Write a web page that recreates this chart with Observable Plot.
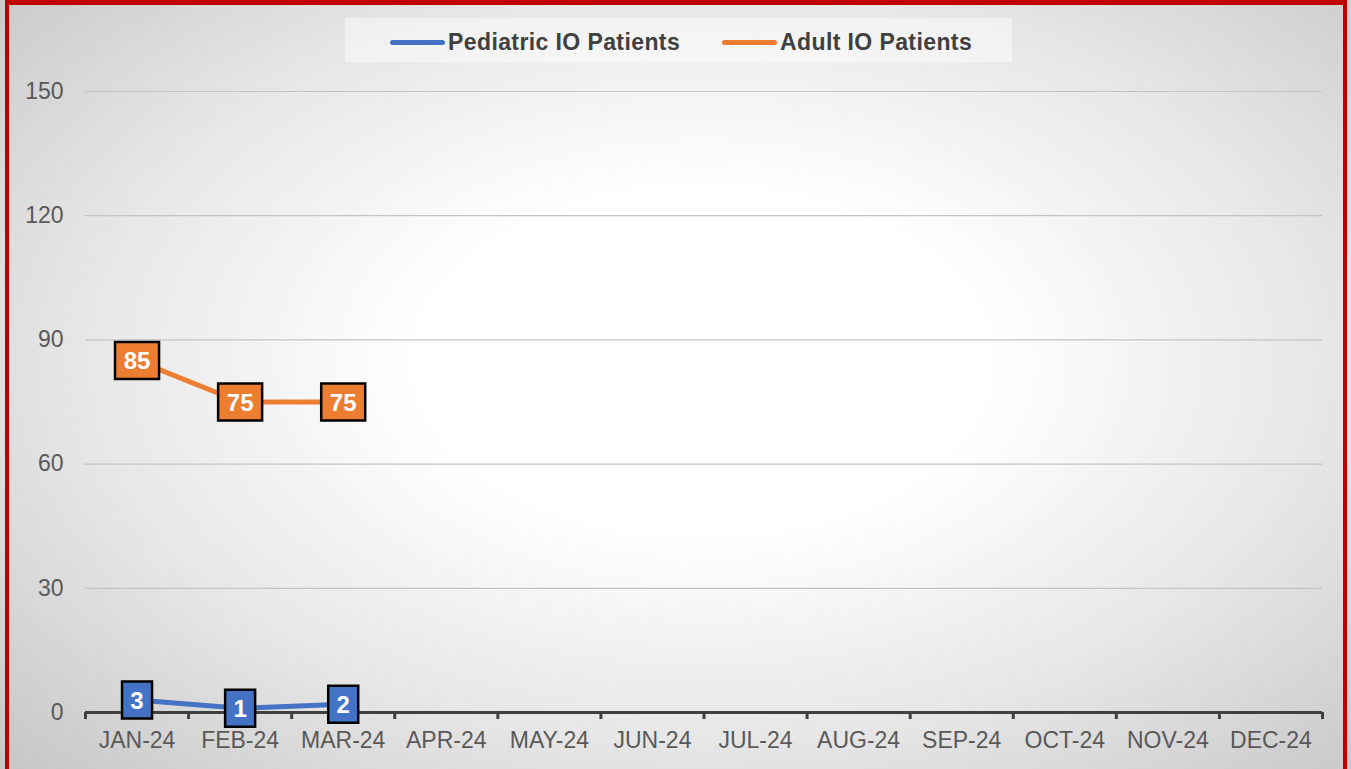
<!DOCTYPE html>
<html>
<head>
<meta charset="utf-8">
<script src="https://cdn.jsdelivr.net/npm/d3@7"></script>
<script src="https://cdn.jsdelivr.net/npm/@observablehq/plot@0.6"></script>
<style>
  html, body { margin: 0; padding: 0; width: 1351px; height: 769px; overflow: hidden; }
  body {
    font-family: "Liberation Sans", Arial, sans-serif;
    background: radial-gradient(ellipse 75% 80% at 52% 47%, #ffffff 0%, #ffffff 28%, #e6e6e6 62%, #c2c2c2 100%);
  }
  #frame {
    position: absolute; left: 5px; top: 0; width: 1342px; height: 769px;
    border-top: 5px solid #c00000; border-left: 4px solid #c00000; border-right: 4px solid #c00000;
    box-sizing: border-box; pointer-events: none; z-index: 5;
  }
  #chart { position: absolute; left: 0; top: 0; }
  #legend {
    position: absolute; left: 345px; top: 18px; width: 667px; height: 44px;
    background: rgba(255,255,255,0.45);
    z-index: 3;
  }
  .item { position: absolute; top: 2px; height: 44px; display: flex; align-items: center; }
  .sw { width: 55px; height: 5px; border-radius: 3px; margin-right: 3px; }
  .lab { font-weight: bold; font-size: 23px; color: #404040; letter-spacing: 0.4px; }
</style>
</head>
<body>
<div id="frame"></div>
<div id="legend"></div>
<div id="chart"></div>
<script>
const months = ["JAN-24","FEB-24","MAR-24","APR-24","MAY-24","JUN-24","JUL-24","AUG-24","SEP-24","OCT-24","NOV-24","DEC-24"];
const seriesNames = ["Pediatric IO Patients", "Adult IO Patients"];
const seriesColors = ["#4472C4", "#ED7D31"];
const pediatric = [3, 1, 2];
const adult = [85, 75, 75];
const yTicks = [0, 30, 60, 90, 120, 150];

const ped = pediatric.map((v, i) => ({i, v, month: months[i]}));
const adu = adult.map((v, i) => ({i, v, month: months[i]}));

const rectSym = w => ({
  draw(ctx) {
    const h = 18.5;
    ctx.moveTo(-w/2, -h); ctx.lineTo(w/2, -h); ctx.lineTo(w/2, h); ctx.lineTo(-w/2, h); ctx.closePath();
  }
});

const centers = months.map((m, i) => i + 0.5);
const bounds = d3.range(months.length + 1);

function seriesMarks(data, color) {
  return [
    Plot.line(data, {x: d => d.i + 0.5, y: "v", stroke: color, strokeWidth: 5, curve: "linear"}),
    Plot.dot(data, {x: d => d.i + 0.5, y: "v", symbol: d => String(d.v).length, fill: color, stroke: "#000", strokeWidth: 2.5}),
    Plot.text(data, {x: d => d.i + 0.5, y: "v", text: d => String(d.v), fill: "#fff", fontWeight: "bold", fontSize: 24, dy: 1})
  ];
}

const chart = Plot.plot({
  width: 1351,
  height: 769,
  marginLeft: 85,
  marginRight: 29,
  marginTop: 91,
  marginBottom: 57,
  style: {background: "transparent", fontFamily: "Liberation Sans, Arial, sans-serif", overflow: "visible"},
  x: {type: "linear", domain: [0, months.length]},
  y: {domain: [0, 150]},
  symbol: {domain: [1, 2, 3], range: [rectSym(30), rectSym(44), rectSym(58)]},
  marks: [
    Plot.ruleY(yTicks.filter(t => t > 0), {stroke: "#c4c4c4", strokeWidth: 1.2}),
    Plot.axisY({ticks: yTicks, tickSize: 0, tickPadding: 22, fontSize: 23, fill: "#595959", label: null}),
    Plot.ruleY([0], {stroke: "#404040", strokeWidth: 3}),
    Plot.axisX({ticks: bounds, tickSize: 7, tickFormat: () => "", stroke: "#404040", strokeWidth: 3, label: null}),
    Plot.axisX({ticks: centers, tickSize: 0, tickPadding: 19, tickFormat: d => months[Math.floor(d)], fontSize: 23, fill: "#595959", label: null}),
    ...seriesMarks(ped, seriesColors[0]),
    ...seriesMarks(adu, seriesColors[1])
  ]
});
document.getElementById("chart").appendChild(chart);

const legend = document.getElementById("legend");
const lefts = [45, 377];
seriesNames.forEach((name, k) => {
  const it = document.createElement("div");
  it.className = "item";
  it.style.left = lefts[k] + "px";
  it.innerHTML = `<div class="sw" style="background:${seriesColors[k]}"></div><span class="lab">${name}</span>`;
  legend.appendChild(it);
});
</script>
</body>
</html>
